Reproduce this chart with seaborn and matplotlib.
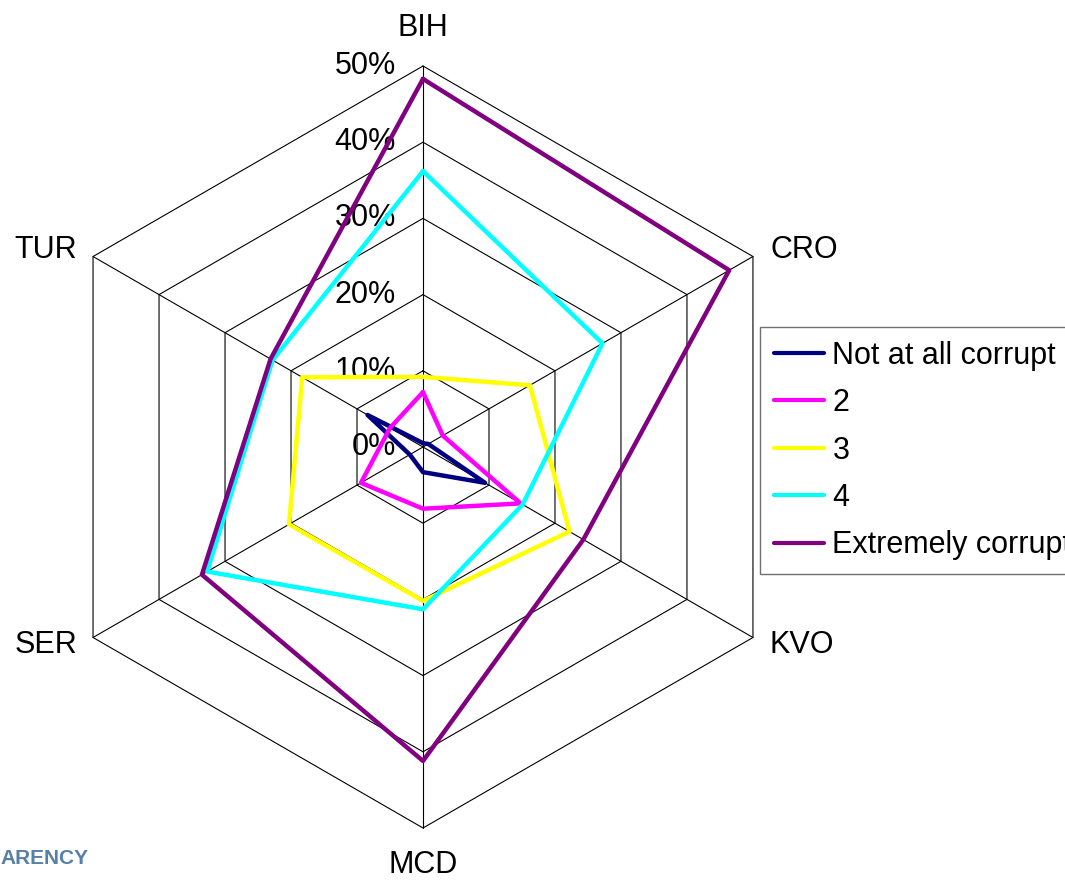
import numpy as np
import pandas as pd
import matplotlib
matplotlib.use("Agg")
import matplotlib.pyplot as plt
import seaborn as sns

# ---------------- data ----------------
countries = ["BIH", "CRO", "KVO", "MCD", "SER", "TUR"]
series_names = ["Not at all corrupt", "2", "3", "4", "Extremely corrupt"]
not_at_all = [0.5, 0.8, 9.4, 3.3, 2.0, 8.4]
two = [7.2, 3.0, 14.8, 8.1, 9.4, 5.0]
three = [9.2, 16.2, 22.2, 20.2, 20.3, 18.3]
four = [36.2, 27.2, 15.1, 21.3, 32.7, 22.8]
extremely = [48.3, 46.4, 24.3, 41.2, 33.5, 23.1]
ticks = [0, 10, 20, 30, 40, 50]
tick_labels = ["0%", "10%", "20%", "30%", "40%", "50%"]

colors = ["#000080", "#FF00FF", "#FFFF00", "#00FFFF", "#800080"]

# ---------------- setup ----------------
sns.set_style("white")
plt.rcParams["font.family"] = ["Liberation Sans", "DejaVu Sans"]
plt.rcParams["text.color"] = "black"

W, H = 1065, 883
fig = plt.figure(figsize=(W / 100, H / 100), dpi=100)
ax = fig.add_axes([0, 0, 1, 1])
ppu = 7.62            # pixels per unit (percent)
cx, cy = 423, 447     # centre in pixels (from top-left)
ax.set_xlim(-cx / ppu, (W - cx) / ppu)
ax.set_ylim(-(H - cy) / ppu, cy / ppu)
ax.axis("off")

angles = np.deg2rad([90, 30, -30, -90, -150, 150])

# grid (hexagons + spokes)
for r in ticks[1:]:
    xs = [r * np.cos(a) for a in angles] + [r * np.cos(angles[0])]
    ys = [r * np.sin(a) for a in angles] + [r * np.sin(angles[0])]
    ax.plot(xs, ys, color="black", lw=0.8, zorder=1)
for a in angles:
    ax.plot([0, 50 * np.cos(a)], [0, 50 * np.sin(a)], color="black", lw=0.8, zorder=1)

# data -> long dataframe
rows = []
for name, vals in zip(series_names, [not_at_all, two, three, four, extremely]):
    for i in list(range(len(countries))) + [0]:
        rows.append({"series": name, "country": countries[i],
                     "x": vals[i] * np.cos(angles[i]),
                     "y": vals[i] * np.sin(angles[i])})
df = pd.DataFrame(rows)

sns.lineplot(data=df, x="x", y="y", hue="series", hue_order=series_names,
             palette=colors, sort=False, estimator=None, lw=3.2,
             ax=ax, legend=True, zorder=3)

# category labels
fs = 22
ax.text(0, (cy - 28) / ppu, "BIH", ha="center", va="center", fontsize=fs, color="black")
ax.text((770 - cx) / ppu, (cy - 250) / ppu, "CRO", ha="left", va="center", fontsize=fs, color="black")
ax.text((770 - cx) / ppu, (cy - 645) / ppu, "KVO", ha="left", va="center", fontsize=fs, color="black")
ax.text(0, (cy - 865) / ppu, "MCD", ha="center", va="center", fontsize=fs, color="black")
ax.text((77 - cx) / ppu, (cy - 645) / ppu, "SER", ha="right", va="center", fontsize=fs, color="black")
ax.text((77 - cx) / ppu, (cy - 250) / ppu, "TUR", ha="right", va="center", fontsize=fs, color="black")

# radial tick labels
for t, lab in zip(ticks, tick_labels):
    ax.text((396 - cx) / ppu, t, lab, ha="right", va="center", fontsize=fs,
            color="black", zorder=2)

# legend
leg = ax.legend(loc="upper left", bbox_to_anchor=(760 / W, 1 - 327 / H),
                bbox_transform=fig.transFigure, borderaxespad=0,
                fontsize=fs, frameon=True, fancybox=False, framealpha=1,
                handlelength=1.65, handletextpad=0.27, labelspacing=0.57,
                borderpad=0.45, title=None)
leg.get_frame().set_edgecolor("#707070")
leg.get_frame().set_linewidth(1.0)
for txt in leg.get_texts():
    txt.set_color("black")
for line in leg.get_lines():
    line.set_linewidth(3.0)

# logo fragment bottom-left
fig.text(0 / W, 1 - 859 / H, "ARENCY", ha="left", va="center", fontsize=15,
         color="#3a6a9a", fontweight="bold", alpha=0.85)

fig.savefig("out.png", dpi=100)
